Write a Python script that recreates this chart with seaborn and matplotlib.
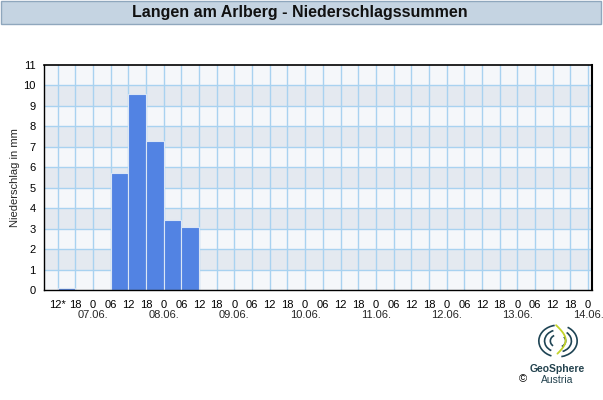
import numpy as np
import pandas as pd
import matplotlib
matplotlib.use("Agg")
import matplotlib.pyplot as plt
import seaborn as sns
from matplotlib.patches import Rectangle, Arc

# ---- data (hours since 06.06. 00:00, 6-hour precipitation sums in mm) ----
period_start_h = [12, 30, 36, 42, 48, 54]
precip_mm = [0.1, 5.7, 9.6, 7.3, 3.4, 3.1]
tick_hours = list(range(12, 193, 6))
hour_labels = ["12*"] + [("0" if h % 24 == 0 else f"{h % 24:02d}") for h in tick_hours[1:]]
date_hours = [24, 48, 72, 96, 120, 144, 168, 192]
date_labels = ["07.06.", "08.06.", "09.06.", "10.06.", "11.06.", "12.06.", "13.06.", "14.06."]
title = "Langen am Arlberg - Niederschlagssummen"
ylabel = "Niederschlag in mm"

df = pd.DataFrame({"mid": [s + 3 for s in period_start_h], "mm": precip_mm})

sns.set_theme(style="white")
plt.rcParams["font.family"] = ["Liberation Sans", "DejaVu Sans"]

fig = plt.figure(figsize=(6.03, 4.00), dpi=100)
ax = fig.add_axes([44 / 603, 1 - 290 / 400, (592.3 - 44) / 603, (290 - 65) / 400])

# background bands
ax.set_facecolor("#f5f7fa")
for y0 in range(1, 11, 2):
    ax.axhspan(y0, y0 + 1, color="#e4e9f0", zorder=0, lw=0)

grid_c = "#a9d2f0"
for h in tick_hours:
    ax.axvline(h, color=grid_c, lw=1.0, zorder=0.5)
for y in range(1, 11):
    ax.axhline(y, color=grid_c, lw=1.0, zorder=0.5)

sns.histplot(data=df, x="mid", weights="mm", binwidth=6, binrange=(12, 60),
             color="#5283e3", alpha=1.0, edgecolor="#dbe6f5", linewidth=0.8,
             ax=ax, zorder=2)

ax.set_xlim(7.4, 193.4)
ax.set_ylim(0, 11)
ax.set_xticks(tick_hours)
ax.set_xticklabels(hour_labels)
ax.set_yticks(range(0, 12))
ax.set_xlabel("")
ax.set_ylabel("")
ax.tick_params(axis="both", direction="out", length=4, width=0.8, colors="black",
               labelsize=8, pad=2)
ax.tick_params(axis="x", pad=3)
for s in ax.spines.values():
    s.set_color("black")
    s.set_linewidth(1.5)
ax.spines["left"].set_linewidth(1.0)
ax.spines["bottom"].set_linewidth(1.0)
ax.spines["top"].set_linewidth(1.2)

for h, lab in zip(date_hours, date_labels):
    ax.text(h, -25 / 225 * 11, lab, ha="center", va="center", fontsize=8,
            transform=ax.transData, clip_on=False)

fig.text(15 / 603, 1 - 178 / 400, ylabel, rotation=90, ha="center", va="center", fontsize=8)

# title bar
fig.patches.append(Rectangle((0.5 / 603, 1 - 23.5 / 400), 600 / 603, 23 / 400,
                             transform=fig.transFigure, facecolor="#c5d4e2",
                             edgecolor="#8fa7bd", lw=1.0))
fig.text(300 / 603, 1 - 12 / 400, title, ha="center", va="center",
         fontsize=11.5, fontweight="bold", color="#111111")

# logo (approximation)
lax = fig.add_axes([535 / 603, 1 - 360 / 400, 46 / 603, 38 / 400])
lax.set_xlim(-1.2, 1.2)
lax.set_ylim(-1.2, 1.2)
lax.axis("off")
dark = "#1e4454"
for r, t1, t2 in [(1.0, 100, 250), (0.7, 110, 240), (0.4, 120, 230),
                  (1.0, 280, 60), (0.7, 290, 50), (0.4, 300, 40)]:
    lax.add_patch(Arc((0, 0), 2 * r, 2 * r, theta1=t1, theta2=t2, color=dark, lw=1.2))
tt = np.linspace(0, 1, 30)
lax.plot(-0.1 + 0.5 * np.sin(tt * 3), 1.0 - 1.8 * tt, color="#c3d32a", lw=1.3)
fig.text(557 / 603, 1 - 369 / 400, "GeoSphere", ha="center", va="center",
         fontsize=7.5, fontweight="bold", color="#24434f")
fig.text(557 / 603, 1 - 380 / 400, "Austria", ha="center", va="center",
         fontsize=7.5, color="#24434f")
fig.text(523 / 603, 1 - 379 / 400, "©", ha="center", va="center", fontsize=8, color="black")

fig.savefig("out.png", dpi=100)
